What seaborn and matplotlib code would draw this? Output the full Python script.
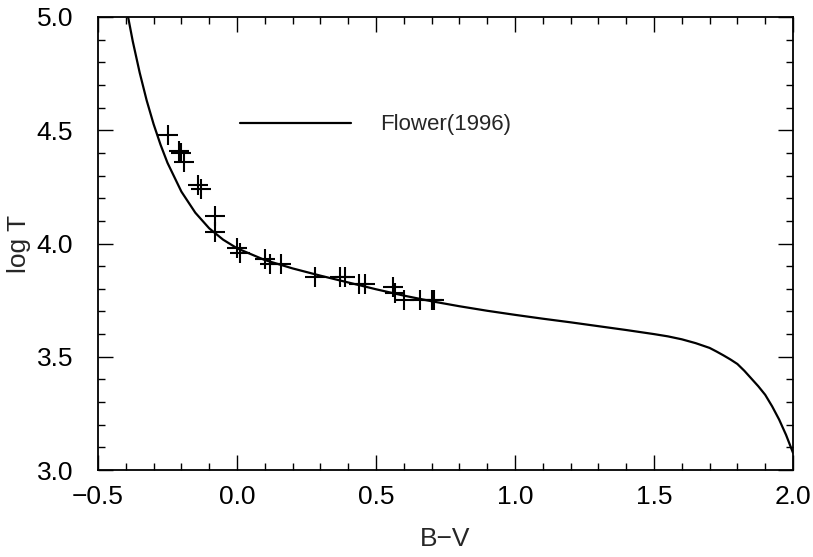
import numpy as np
import pandas as pd
import seaborn as sns
import matplotlib
matplotlib.use("Agg")
import matplotlib.pyplot as plt
from matplotlib.ticker import MultipleLocator, FuncFormatter

# Flower (1996) curve
curve_bv = [-0.40, -0.375, -0.35, -0.325, -0.30, -0.275, -0.25, -0.20, -0.15, -0.10, -0.05,
            0.0, 0.1, 0.2, 0.3, 0.4, 0.5, 0.6, 0.7, 0.8, 0.9, 1.0, 1.1, 1.2, 1.3,
            1.4, 1.5, 1.55, 1.6, 1.65, 1.7, 1.725, 1.75, 1.775, 1.8, 1.825, 1.85,
            1.875, 1.9, 1.925, 1.95, 1.975, 2.0]
curve_logt = [5.053, 4.893, 4.754, 4.632, 4.527, 4.436, 4.356, 4.229, 4.136, 4.067, 4.017,
              3.979, 3.927, 3.890, 3.858, 3.828, 3.798, 3.770, 3.745, 3.723, 3.703,
              3.685, 3.668, 3.652, 3.635, 3.618, 3.600, 3.590, 3.577, 3.560, 3.539,
              3.523, 3.506, 3.488, 3.468, 3.438, 3.404, 3.370, 3.332, 3.281, 3.223,
              3.155, 3.076]

# observed stars (plus markers)
star_bv = [-0.25, -0.21, -0.20, -0.19, -0.14, -0.13, -0.08, -0.08, 0.00, 0.01,
           0.10, 0.12, 0.16, 0.28, 0.37, 0.39, 0.44, 0.46, 0.56, 0.57, 0.60,
           0.66, 0.70, 0.71]
star_logt = [4.48, 4.41, 4.40, 4.36, 4.26, 4.24, 4.12, 4.05, 3.98, 3.96,
             3.93, 3.91, 3.91, 3.85, 3.85, 3.85, 3.82, 3.82, 3.81, 3.78, 3.75,
             3.75, 3.75, 3.75]

curve = pd.DataFrame({"bv": curve_bv, "logt": curve_logt})
stars = pd.DataFrame({"bv": star_bv, "logt": star_logt})

sns.set_theme(style="ticks")
plt.rcParams["font.family"] = ["Liberation Sans", "DejaVu Sans"]

fig = plt.figure(figsize=(8.13, 5.57), dpi=100)
ax = fig.add_axes([98 / 813, 1 - 470 / 557, 695 / 813, 453 / 557])

sns.lineplot(data=curve, x="bv", y="logt", sort=False, estimator=None,
             color="black", linewidth=1.6, ax=ax, label="Flower(1996)")
sns.scatterplot(data=stars, x="bv", y="logt", marker="+", s=190,
                linewidth=1.5, color="black", ax=ax, legend=False)

ax.set_xlim(-0.5, 2.0)
ax.set_ylim(3.0, 5.0)
ax.xaxis.set_major_locator(MultipleLocator(0.5))
ax.xaxis.set_minor_locator(MultipleLocator(0.1))
ax.yaxis.set_major_locator(MultipleLocator(0.5))
ax.yaxis.set_minor_locator(MultipleLocator(0.1))
fmt = FuncFormatter(lambda v, p: ("%.1f" % v).replace("-", "\u2212"))
ax.xaxis.set_major_formatter(fmt)
ax.yaxis.set_major_formatter(fmt)
ax.tick_params(which="both", direction="in", top=True, right=True,
               colors="black", labelsize=19, width=1)
ax.tick_params(which="major", length=11)
ax.tick_params(axis="x", which="major", pad=11)
ax.tick_params(axis="y", which="major", pad=18)
ax.tick_params(which="minor", length=5)
for s in ax.spines.values():
    s.set_linewidth(1.3)
    s.set_color("black")

ax.set_xlabel("B\u2212V", fontsize=19, labelpad=13)
ax.set_ylabel("log T", fontsize=19, labelpad=4)

ax.legend(loc="center left", bbox_to_anchor=(0.204, 0.762), frameon=False,
          handlelength=5.0, handletextpad=1.3, borderpad=0, borderaxespad=0,
          fontsize=16)

fig.savefig("out.png", dpi=100)
